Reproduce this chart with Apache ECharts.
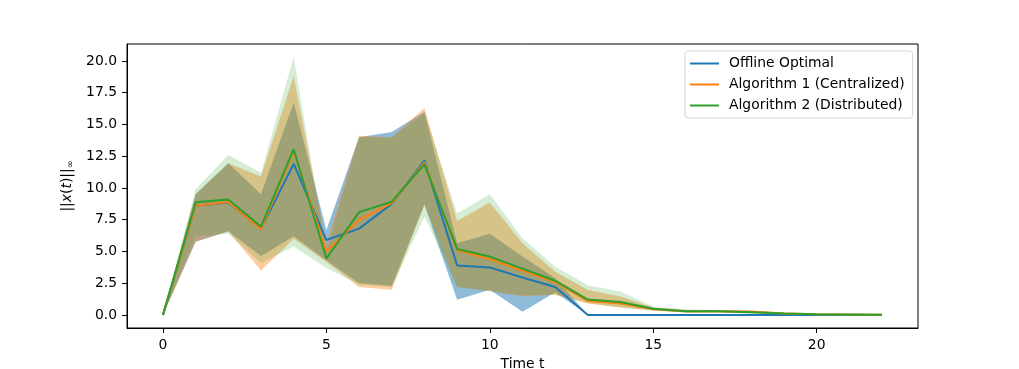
<!DOCTYPE html>
<html>
<head>
<meta charset="utf-8">
<script src="https://cdn.jsdelivr.net/npm/echarts@6/dist/echarts.min.js"></script>
<style>html,body{margin:0;padding:0;background:#fff;}#c{width:1019px;height:369px;}</style>
</head>
<body>
<div id="c"></div>
<script>
const t = [0,1,2,3,4,5,6,7,8,9,10,11,12,13,14,15,16,17,18,19,20,21,22];
const offline = [0,8.6,8.85,6.8,11.9,5.9,6.8,8.75,12.15,3.9,3.75,2.95,2.2,0,0,0,0,0,0,0,0,0,0];
const alg1 = [0,8.6,8.9,6.75,12.9,5.0,7.5,8.8,12.0,5.1,4.4,3.5,2.6,1.1,0.9,0.45,0.3,0.3,0.25,0.12,0.07,0.05,0.02];
const alg2 = [0,8.87,9.1,6.95,13.05,4.45,8.1,8.92,11.85,5.2,4.6,3.65,2.7,1.22,1.02,0.5,0.3,0.3,0.22,0.12,0.07,0.05,0.02];

const offlineUpper = [0,9.5,11.95,9.5,16.7,6.7,14.0,14.4,16.0,5.65,6.4,4.6,2.9,0,0,0,0,0,0,0,0,0,0];
const offlineLower = [0,5.77,6.6,4.65,6.2,4.3,2.5,2.3,8.7,1.2,2.0,0.25,1.8,0,0,0,0,0,0,0,0,0,0];
const alg1Upper = [0,9.5,11.95,10.9,18.8,5.6,14.1,14.0,16.3,7.4,8.85,5.65,3.4,1.97,1.45,0.6,0.4,0.4,0.35,0.2,0.1,0.08,0.04];
const alg1Lower = [0,5.77,6.6,3.5,6.0,4.2,2.2,2.0,8.7,2.2,1.9,1.45,1.6,0.9,0.6,0.35,0.2,0.2,0.15,0.06,0.03,0.02,0.0];
const alg2Upper = [0,9.9,12.6,11.2,20.3,5.0,14.0,14.0,15.9,8.0,9.5,6.05,3.8,2.35,1.85,0.65,0.45,0.4,0.35,0.2,0.1,0.08,0.04];
const alg2Lower = [0,6.2,6.4,4.1,5.4,3.7,2.4,2.2,7.75,2.2,1.85,1.55,1.6,0.95,0.6,0.35,0.2,0.2,0.12,0.06,0.03,0.02,0.0];

const names = ['Offline Optimal','Algorithm 1 (Centralized)','Algorithm 2 (Distributed)'];
const colors = ['#1f77b4','#ff7f0e','#2ca02c'];
const alphas = [0.5,0.4,0.2];
const xTicks = [0,5,10,15,20];
const yTicks = [0,2.5,5,7.5,10,12.5,15,17.5,20];

const lines = [offline, alg1, alg2];
const uppers = [offlineUpper, alg1Upper, alg2Upper];
const lowers = [offlineLower, alg1Lower, alg2Lower];

const font = 'DejaVu Sans';
const series = [];
for (let k = 0; k < 3; k++) {
  const data = t.map((x, i) => [x, lowers[k][i], uppers[k][i]]);
  series.push({
    name: 'band' + k, type: 'custom', silent: true, z: 1,
    encode: { x: 0, y: [1, 2] },
    data: data,
    renderItem: function (params, api) {
      if (params.dataIndex !== 0) return null;
      const pts = [];
      for (let i = 0; i < data.length; i++) pts.push(api.coord([data[i][0], data[i][2]]));
      for (let i = data.length - 1; i >= 0; i--) pts.push(api.coord([data[i][0], data[i][1]]));
      return {
        type: 'polygon',
        shape: { points: pts },
        style: { fill: colors[k], opacity: alphas[k] }
      };
    }
  });
}
for (let k = 0; k < 3; k++) {
  series.push({
    name: names[k], type: 'line', symbol: 'none', z: 3,
    lineStyle: { color: colors[k], width: 2 }, itemStyle: { color: colors[k] },
    data: t.map((x, i) => [x, lines[k][i]])
  });
}

const chart = echarts.init(document.getElementById('c'), null, { renderer: 'canvas' });
chart.setOption({
  animation: false,
  backgroundColor: '#fff',
  grid: { left: 127, right: 101, top: 44, bottom: 41, outerBoundsMode: 'none', containLabel: false, show: true, borderColor: '#000', borderWidth: 1, backgroundColor: 'transparent' },
  legend: {
    data: names, orient: 'vertical', left: 685, top: 51,
    icon: 'rect', itemWidth: 29, itemHeight: 2, itemGap: 6,
    padding: [5, 8, 5, 5],
    backgroundColor: '#fff', borderColor: '#d5d5d5', borderWidth: 1, borderRadius: 3,
    textStyle: { fontFamily: font, fontSize: 13.9, color: '#000', lineHeight: 15, padding: [0, 0, 0, 5] }
  },
  xAxis: {
    type: 'value', min: -1.1, max: 23.1,
    name: 'Time t', nameLocation: 'middle', nameGap: 27,
    nameTextStyle: { fontFamily: font, fontSize: 13.9, color: '#000' },
    axisLine: { show: true, onZero: false, lineStyle: { color: '#000', width: 1 } },
    axisTick: { show: true, length: 5, lineStyle: { color: '#000' }, customValues: xTicks },
    axisLabel: { fontFamily: font, fontSize: 13.9, color: '#000', margin: 10, customValues: xTicks, formatter: v => String(v) },
    splitLine: { show: false }
  },
  yAxis: {
    type: 'value', min: -1.02, max: 21.33,
    name: '{n|||}{i|x}{n|(}{i|t}{n|)||}{s|∞}', nameLocation: 'middle', nameGap: 41, nameRotate: 90,
    nameTextStyle: {
      fontFamily: font, fontSize: 13.9, color: '#000',
      rich: {
        n: { fontFamily: font, fontSize: 13.9, color: '#000' },
        i: { fontFamily: font, fontSize: 13.9, fontStyle: 'italic', color: '#000' },
        s: { fontFamily: font, fontSize: 9.5, color: '#000', padding: [6, 0, 0, 0] }
      }
    },
    axisLine: { show: true, onZero: false, lineStyle: { color: '#000', width: 1 } },
    axisTick: { show: true, length: 5, lineStyle: { color: '#000' }, customValues: yTicks },
    axisLabel: { fontFamily: font, fontSize: 13.9, color: '#000', margin: 10, customValues: yTicks, formatter: v => v.toFixed(1) },
    splitLine: { show: false }
  },
  series: series
});
</script>
</body>
</html>
